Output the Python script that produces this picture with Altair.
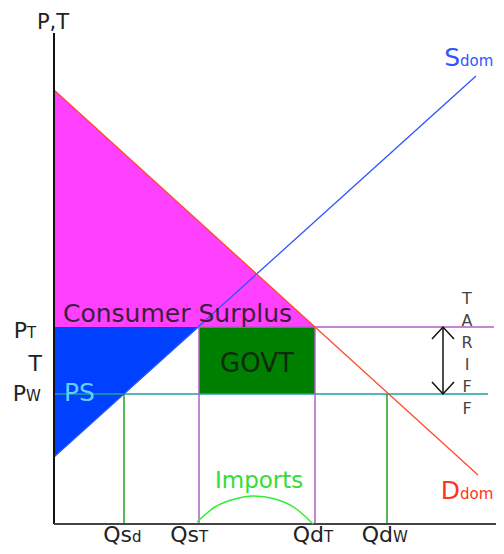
import altair as alt
import pandas as pd

# ---- data (plot units) ----
x_max = 442
y_max = 491
demand_q = [0, 424]
demand_p = [434, 49]
supply_q = [0, 422]
supply_p = [67, 448]
p_tariff = 197
p_world = 130
qs_d = 70
qs_t = 145
qd_t = 261
qd_w = 333
pt_line_end = 440
pw_line_end = 434
arrow_q = 389
imports_q = [143, 161, 181, 199, 221, 241, 259]
imports_h = [2, 17, 25, 28, 25, 16, 0]

FONT = "DejaVu Sans"
xs = alt.Scale(domain=[0, x_max], nice=False, zero=False)
ys = alt.Scale(domain=[0, y_max], nice=False, zero=False)


def X(f="x"):
    return alt.X(f + ":Q", scale=xs, axis=None)


def Y(f="y"):
    return alt.Y(f + ":Q", scale=ys, axis=None)


def poly_area(qs, ps, p2s, color):
    df = pd.DataFrame({"x": qs, "y": ps, "y2": p2s})
    return alt.Chart(df).mark_area(color=color, opacity=1).encode(
        x=X(), y=Y(), y2="y2:Q")


def line(qs, ps, color, w=1.3, interp="linear"):
    df = pd.DataFrame({"x": qs, "y": ps})
    return alt.Chart(df).mark_line(color=color, strokeWidth=w, interpolate=interp).encode(
        x=X(), y=Y())


def hrule(x1, x2, y, color, w=1.5):
    df = pd.DataFrame({"x": [x1], "x2": [x2], "y": [y]})
    return alt.Chart(df).mark_rule(color=color, strokeWidth=w).encode(
        x=X(), x2="x2:Q", y=Y())


def vrule(x, y1, y2, color, w=1.5):
    df = pd.DataFrame({"x": [x], "y": [y1], "y2": [y2]})
    return alt.Chart(df).mark_rule(color=color, strokeWidth=w).encode(
        x=X(), y=Y(), y2="y2:Q")


def text(label, x, y, size=22, color="#222222", align="left", baseline="alphabetic", **kw):
    df = pd.DataFrame({"x": [x], "y": [y], "t": [label]})
    return alt.Chart(df).mark_text(
        font=FONT, fontSize=size, color=color, align=align, baseline=baseline,
        **kw).encode(x=X(), y=Y(), text="t:N")


def sublabel(base, sub, x, y, color="#222222", bsize=22, ssize=15):
    return [text(base, x, y, size=bsize, color=color, align="right"),
            text(sub, x, y, size=ssize, color=color, align="left")]


layers = []
# consumer surplus
layers.append(poly_area([0, qd_t], [demand_p[0], p_tariff], [p_tariff, p_tariff], "#ff40ff"))
# producer surplus
layers.append(poly_area([0, qs_t], [p_tariff, p_tariff], [supply_p[0], p_tariff], "#0040ff"))
# government revenue
govt = pd.DataFrame({"x": [qs_t], "x2": [qd_t], "y": [p_world], "y2": [p_tariff]})
layers.append(alt.Chart(govt).mark_rect(color="#008000").encode(
    x=X(), x2="x2:Q", y=Y(), y2="y2:Q"))

layers.append(hrule(qs_t, pt_line_end, p_tariff, "#b060c0"))
layers.append(hrule(0, pw_line_end, p_world, "#20a0a0"))
layers.append(line(supply_q, supply_p, "#2a55ff"))
layers.append(line(demand_q, demand_p, "#ff4a2a"))
layers.append(vrule(qs_d, 0, p_world, "#22a022"))
layers.append(vrule(qd_w, 0, p_world, "#22a022"))
layers.append(vrule(qs_t, 0, p_tariff, "#b060c0"))
layers.append(vrule(qd_t, 0, p_tariff, "#b060c0"))
# axes
layers.append(vrule(0, 0, y_max, "#111111", w=2))
layers.append(hrule(0, x_max, 0, "#444444", w=2))
# imports arc
layers.append(line(imports_q, imports_h, "#33ee33", w=1.5, interp="monotone"))
# tariff arrow
layers.append(vrule(arrow_q, p_world, p_tariff, "#111111", w=1.5))
heads = pd.DataFrame({"x": [arrow_q], "y": [p_tariff]})
layers.append(alt.Chart(heads).mark_point(
    shape="M-1,1.1L0,0L1,1.1", size=484, filled=False, color="#111111", strokeWidth=1.5, opacity=1
).encode(x=X(), y=Y()))
heads2 = pd.DataFrame({"x": [arrow_q], "y": [p_world]})
layers.append(alt.Chart(heads2).mark_point(
    shape="M-1,-1.1L0,0L1,-1.1", size=484, filled=False, color="#111111", strokeWidth=1.5, opacity=1
).encode(x=X(), y=Y()))

# texts
layers.append(text("P,T", -1, y_max + 4, size=21, align="center"))
layers.append(text("Consumer Surplus", 9, p_tariff + 5, size=25, color="#3c1f3c"))
layers.append(text("GOVT", (qs_t + qd_t) / 2, (p_tariff + p_world) / 2 - 11, size=26,
                   color="#0d2a0d", align="center"))
layers.append(text("PS", 10, p_world - 7, size=25, color="#5fd0ff"))
layers.append(text("Imports", 161, 36, size=23, color="#33dd33"))
layers.append(text("T\nA\nR\nI\nF\nF", 413, p_tariff + 36, size=16, color="#444444",
                   align="center", baseline="top", lineBreak="\n", lineHeight=22))
layers += sublabel("P", "T", -27, p_tariff - 11)
layers.append(text("T", -12, (p_tariff + p_world) / 2 - 10, size=22, align="right"))
layers += sublabel("P", "W", -28, p_world - 7)
layers += sublabel("S", "dom", 406, 458, color="#3355ff", bsize=25, ssize=15)
layers += sublabel("D", "dom", 406, 25, color="#ff3322", bsize=25, ssize=15)
layers += sublabel("Qs", "d", qs_d + 8, -18)
layers += sublabel("Qs", "T", qs_t, -18)
layers += sublabel("Qd", "T", qd_t + 9, -18)
layers += sublabel("Qd", "W", qd_w + 6, -18)

chart = alt.layer(*layers).properties(
    width=x_max, height=y_max,
    autosize=alt.AutoSizeParams(type="none"),
    padding={"left": 46, "top": 25, "right": 0, "bottom": 22},
).configure_view(stroke=None)

chart.save("out.html", embed_options={"renderer": "svg", "actions": False})
